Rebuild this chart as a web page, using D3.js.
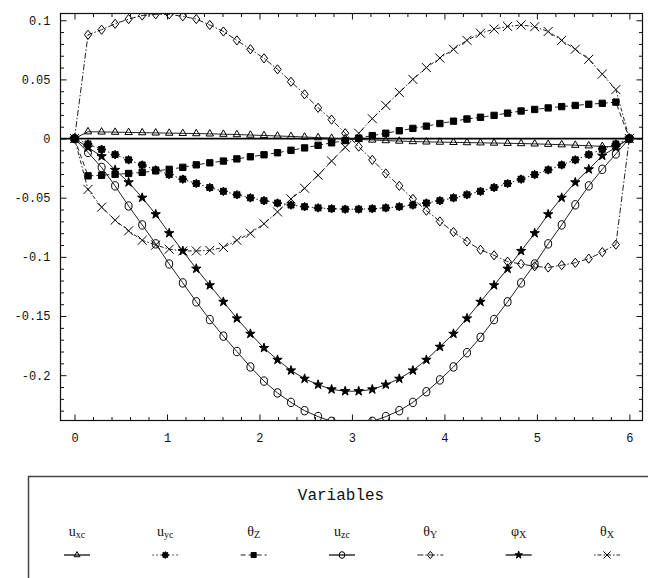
<!DOCTYPE html>
<html>
<head>
<meta charset="utf-8">
<script src="https://cdn.jsdelivr.net/npm/d3@7"></script>
<style>
body { margin: 0; background: #fff; }
</style>
</head>
<body>
<div class="container"></div>
<script>
// sample positions along the member (42 points, 0..6)
const xs = [0, 0.146, 0.293, 0.439, 0.585, 0.732, 0.878, 1.024, 1.171, 1.317, 1.463, 1.610, 1.756, 1.902,
  2.049, 2.195, 2.341, 2.488, 2.634, 2.780, 2.927, 3.073, 3.220, 3.366, 3.512, 3.659, 3.805, 3.951,
  4.098, 4.244, 4.390, 4.537, 4.683, 4.829, 4.976, 5.122, 5.268, 5.415, 5.561, 5.707, 5.854, 6.000]

const uxc = [0, 0.0058, 0.0056, 0.0054, 0.0052, 0.0050, 0.0048, 0.0046, 0.0044, 0.0042, 0.0040, 0.0037, 0.0034, 0.0030,
  0.0026, 0.0022, 0.0018, 0.0013, 0.0008, 0.0003, -0.0002, -0.0007, -0.0012, -0.0017, -0.0021, -0.0025, -0.0028, -0.0030,
  -0.0032, -0.0034, -0.0036, -0.0038, -0.0040, -0.0042, -0.0045, -0.0048, -0.0052, -0.0056, -0.0061, -0.0066, -0.0071, 0]

const uyc = [0, -0.0046, -0.0091, -0.0136, -0.018, -0.0223, -0.0265, -0.0305, -0.0343, -0.038, -0.0414, -0.0446, -0.0475, -0.0501,
  -0.0525, -0.0545, -0.0562, -0.0576, -0.0586, -0.0593, -0.0597, -0.0597, -0.0593, -0.0586, -0.0576, -0.0562, -0.0545, -0.0525,
  -0.0501, -0.0475, -0.0446, -0.0414, -0.038, -0.0343, -0.0305, -0.0265, -0.0223, -0.018, -0.0136, -0.0091, -0.0046, 0]

const thetaZ = [0, -0.0315, -0.031, -0.0302, -0.0295, -0.0286, -0.0273, -0.026, -0.0243, -0.0222, -0.0205, -0.019, -0.0172, -0.0154,
  -0.0137, -0.012, -0.0099, -0.0079, -0.0057, -0.0036, -0.0017, 0.0003, 0.0025, 0.0045, 0.0066, 0.0086, 0.0105, 0.0127,
  0.0147, 0.0165, 0.018, 0.0196, 0.0215, 0.0233, 0.0246, 0.0259, 0.027, 0.028, 0.029, 0.0298, 0.0308, 0]

const uzc = [0, -0.0117, -0.0244, -0.040, -0.057, -0.073, -0.089, -0.106, -0.122, -0.138, -0.153, -0.167, -0.180, -0.193,
  -0.205, -0.215, -0.223, -0.230, -0.235, -0.239, -0.242, -0.242, -0.239, -0.235, -0.230, -0.223, -0.214, -0.204,
  -0.193, -0.181, -0.168, -0.153, -0.138, -0.122, -0.106, -0.089, -0.073, -0.056, -0.040, -0.026, -0.013, 0]

const thetaY = [0, 0.0877, 0.092, 0.097, 0.101, 0.104, 0.105, 0.105, 0.1033, 0.101, 0.096, 0.0905, 0.083, 0.0755,
  0.0678, 0.0585, 0.048, 0.0374, 0.026, 0.016, 0.0045, -0.0068, -0.018, -0.0295, -0.040, -0.051, -0.061, -0.070,
  -0.079, -0.087, -0.094, -0.0987, -0.104, -0.106, -0.108, -0.109, -0.107, -0.105, -0.1015, -0.096, -0.0896, 0]

const phiX = [0, -0.0075, -0.015, -0.0265, -0.037, -0.050, -0.064, -0.080, -0.095, -0.110, -0.124, -0.138, -0.152, -0.165,
  -0.177, -0.187, -0.196, -0.203, -0.208, -0.212, -0.2135, -0.2135, -0.212, -0.208, -0.203, -0.196, -0.187, -0.176,
  -0.165, -0.152, -0.138, -0.124, -0.110, -0.095, -0.080, -0.064, -0.050, -0.037, -0.026, -0.0145, -0.0074, 0]

const thetaX = [0, -0.043, -0.058, -0.069, -0.078, -0.086, -0.090, -0.0935, -0.095, -0.095, -0.0945, -0.092, -0.086, -0.080,
  -0.072, -0.062, -0.051, -0.042, -0.031, -0.019, -0.0074, 0.0045, 0.0168, 0.028, 0.039, 0.050, 0.060, 0.068,
  0.0755, 0.083, 0.089, 0.0925, 0.0948, 0.096, 0.0945, 0.0905, 0.083, 0.0755, 0.067, 0.0545, 0.0414, 0]

const xTicks = [0, 1, 2, 3, 4, 5, 6]
const xTickLabels = ["0", "1", "2", "3", "4", "5", "6"]
const yTicks = [-0.2, -0.15, -0.1, -0.05, 0, 0.05, 0.1]
const yTickLabels = ["-0.2", "-0.15", "-0.1", "-0.05", "0", "0.05", "0.1"]

const legendTitle = "Variables"
const labelMain = ["u", "u", "\u03B8", "u", "\u03B8", "\u03C6", "\u03B8"]
const labelSub = ["xc", "yc", "Z", "zc", "Y", "X", "X"]

const svg = d3.select(".container").append("svg")
  .attr("width", 648)
  .attr("height", 578)
  .style("background", "#fff")

const pLeft = 60.5, pRight = 642.5, pTop = 13.5, pBottom = 420.5

const x = d3.scaleLinear().domain([-0.1515, 6.142]).range([pLeft, pRight])
const y = d3.scaleLinear().domain([-0.2383, 0.1057]).range([pBottom, pTop])

// marker shapes
function gearPath(r1, r2) {
  let p = ""
  for (let k = 0; k < 16; k++) {
    const a = Math.PI * k / 8
    const r = k % 2 === 0 ? r1 : r2
    p += (k === 0 ? "M" : "L") + (r * Math.sin(a)).toFixed(2) + "," + (-r * Math.cos(a)).toFixed(2)
  }
  return p + "Z"
}
const markerDefs = {
  tri: s => ({ d: d3.symbol(d3.symbolTriangle, 24 * s * s)(), fill: "none" }),
  gear: s => ({ d: gearPath(4.3 * s, 3.1 * s), fill: "#000" }),
  square: s => ({ d: d3.symbol(d3.symbolSquare, 40 * s * s)(), fill: "#000" }),
  circle: s => ({ d: `M0,${-4.2 * s}A${3.5 * s},${4.2 * s} 0 1,1 0,${4.2 * s}A${3.5 * s},${4.2 * s} 0 1,1 0,${-4.2 * s}Z`, fill: "none" }),
  diamond: s => ({ d: `M0,${-4.6 * s}L${3.6 * s},0L0,${4.6 * s}L${-3.6 * s},0Z`, fill: "none" }),
  star: s => ({ d: d3.symbol(d3.symbolStar, 27 * s * s)(), fill: "#000" }),
  times: s => ({ d: d3.symbol(d3.symbolTimes, 55 * s * s)(), fill: "none" })
}

const series = [
  { values: uxc, marker: "tri", dash: null },
  { values: uyc, marker: "gear", dash: "1.5,2.5" },
  { values: thetaZ, marker: "square", dash: "5,3" },
  { values: uzc, marker: "circle", dash: null },
  { values: thetaY, marker: "diamond", dash: "6,2,1.5,2" },
  { values: phiX, marker: "star", dash: null },
  { values: thetaX, marker: "times", dash: "1.5,2,4,2" }
]

svg.append("defs").append("clipPath").attr("id", "plotclip")
  .append("rect").attr("x", pLeft).attr("y", pTop).attr("width", pRight - pLeft).attr("height", pBottom - pTop)

const plot = svg.append("g").attr("clip-path", "url(#plotclip)")

// zero axis line
plot.append("line")
  .attr("x1", pLeft).attr("x2", pRight)
  .attr("y1", y(0)).attr("y2", y(0))
  .attr("stroke", "#000").attr("stroke-width", 1.7)

const line = d3.line().x((d, i) => x(xs[i])).y(d => y(d))

series.forEach(s => {
  plot.append("path")
    .datum(s.values)
    .attr("d", line)
    .attr("fill", "none")
    .attr("stroke", "#222")
    .attr("stroke-width", 1)
    .attr("stroke-dasharray", s.dash)
})

series.forEach(s => {
  const m = markerDefs[s.marker](1)
  plot.selectAll(null).data(s.values).enter()
    .append("path")
    .attr("transform", (d, i) => `translate(${x(xs[i])},${y(d)})`)
    .attr("d", m.d)
    .attr("fill", m.fill)
    .attr("stroke", "#000")
    .attr("stroke-width", 1)
})

// ticks (inward, on all four sides)
const xMinor = d3.range(0, 6.01, 0.2).filter(v => Math.abs(v - Math.round(v)) > 1e-6)
const yMinor = d3.range(-0.23, 0.105, 0.01).filter(v => Math.abs(v * 20 - Math.round(v * 20)) > 1e-6)

function styleAxis(g) {
  g.select(".domain").remove()
  g.selectAll("line").attr("stroke", "#111")
  g.selectAll("text").attr("font-family", "'Liberation Mono', 'DejaVu Sans Mono', monospace").attr("font-size", 12).attr("fill", "#111")
}

svg.append("g").attr("transform", `translate(0,${pBottom})`)
  .call(d3.axisBottom(x).tickValues(xTicks).tickFormat((d, i) => xTickLabels[i]).tickSizeInner(-6).tickSizeOuter(0).tickPadding(13))
  .call(styleAxis)
svg.append("g").attr("transform", `translate(0,${pBottom})`)
  .call(d3.axisBottom(x).tickValues(xMinor).tickFormat("").tickSizeInner(-3.5).tickSizeOuter(0))
  .call(styleAxis)
svg.append("g").attr("transform", `translate(0,${pTop})`)
  .call(d3.axisTop(x).tickValues(xTicks).tickFormat("").tickSizeInner(-6).tickSizeOuter(0))
  .call(styleAxis)
svg.append("g").attr("transform", `translate(0,${pTop})`)
  .call(d3.axisTop(x).tickValues(xMinor).tickFormat("").tickSizeInner(-3.5).tickSizeOuter(0))
  .call(styleAxis)

svg.append("g").attr("transform", `translate(${pLeft},0)`)
  .call(d3.axisLeft(y).tickValues(yTicks).tickFormat((d, i) => yTickLabels[i]).tickSizeInner(-6).tickSizeOuter(0).tickPadding(10))
  .call(styleAxis)
svg.append("g").attr("transform", `translate(${pLeft},0)`)
  .call(d3.axisLeft(y).tickValues(yMinor).tickFormat("").tickSizeInner(-3.5).tickSizeOuter(0))
  .call(styleAxis)
svg.append("g").attr("transform", `translate(${pRight},0)`)
  .call(d3.axisRight(y).tickValues(yTicks).tickFormat("").tickSizeInner(-6).tickSizeOuter(0))
  .call(styleAxis)
svg.append("g").attr("transform", `translate(${pRight},0)`)
  .call(d3.axisRight(y).tickValues(yMinor).tickFormat("").tickSizeInner(-3.5).tickSizeOuter(0))
  .call(styleAxis)

// frame
svg.append("rect")
  .attr("x", pLeft).attr("y", pTop)
  .attr("width", pRight - pLeft).attr("height", pBottom - pTop)
  .attr("fill", "none").attr("stroke", "#111").attr("stroke-width", 1.2)

// legend
const legend = svg.append("g")
legend.append("rect")
  .attr("x", 28.5).attr("y", 476.5)
  .attr("width", 660).attr("height", 140)
  .attr("fill", "none").attr("stroke", "#444").attr("stroke-width", 1.5)

legend.append("text")
  .attr("x", 341).attr("y", 500)
  .attr("text-anchor", "middle")
  .attr("font-family", "'Liberation Mono', monospace")
  .attr("font-size", 16)
  .attr("fill", "#111")
  .text(legendTitle)

const lx = d3.scalePoint().domain(d3.range(series.length)).range([77, 607])

series.forEach((s, i) => {
  const cx = lx(i)
  const t = legend.append("text")
    .attr("x", cx).attr("y", 536)
    .attr("text-anchor", "middle")
    .attr("font-family", "'Liberation Serif', 'DejaVu Serif', serif")
    .attr("font-size", 14)
    .attr("fill", "#111")
  t.append("tspan").text(labelMain[i])
  t.append("tspan").attr("font-size", 10).attr("dy", 1.5).text(labelSub[i])

  legend.append("line")
    .attr("x1", cx - 13).attr("x2", cx + 13)
    .attr("y1", 555).attr("y2", 555)
    .attr("stroke", "#222").attr("stroke-width", s.dash ? 1 : 1.4)
    .attr("stroke-dasharray", s.dash)
  const m = markerDefs[s.marker](0.8)
  legend.append("path")
    .attr("transform", `translate(${cx},555)`)
    .attr("d", m.d)
    .attr("fill", m.fill)
    .attr("stroke", "#000")
    .attr("stroke-width", 1)
})
</script>
</body>
</html>
